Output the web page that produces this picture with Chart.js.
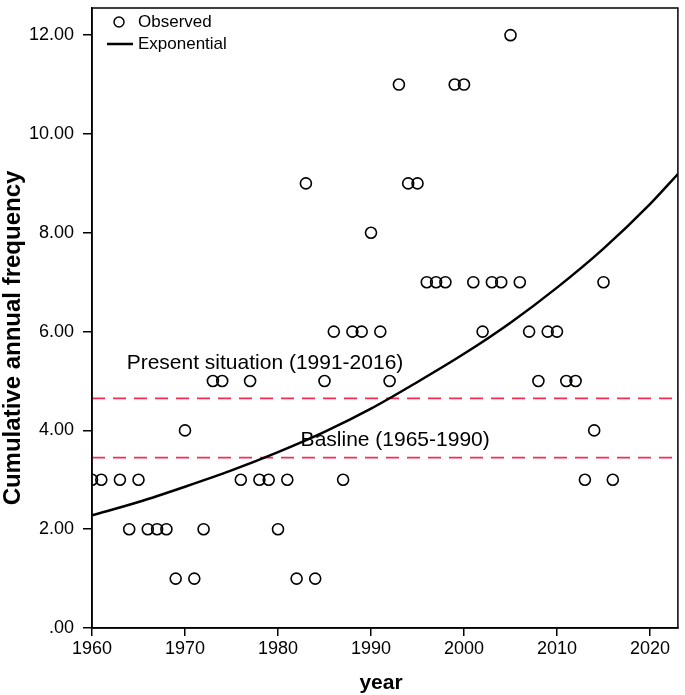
<!DOCTYPE html>
<html><head><meta charset="utf-8">
<script src="https://cdn.jsdelivr.net/npm/chart.js@4/dist/chart.umd.min.js"></script>
<style>html,body{margin:0;padding:0;background:#fff}#wrap{width:685px;height:695px}</style>
</head><body><div id="wrap"><canvas id="c" width="685" height="695"></canvas></div>
<script>
const years = [1960,1961,1963,1964,1965,1966,1967,1968,1969,1970,1971,1972,1973,1974,1976,1977,1978,1979,1980,1981,1982,1983,1984,1985,1986,1987,1988,1989,1990,1991,1992,1993,1994,1995,1996,1997,1998,1999,2000,2001,2002,2003,2004,2005,2006,2007,2008,2009,2010,2011,2012,2013,2014,2015,2016];
const observed = [3,3,3,2,3,2,2,2,1,4,1,2,5,5,3,5,3,3,2,3,1,9,1,5,6,3,6,6,8,6,5,11,9,9,7,7,7,11,11,7,6,7,7,12,7,6,5,6,6,5,5,3,4,7,3];
const curveYears = [1960,1965,1970,1975,1980,1985,1990,1995,2000,2005,2010,2015,2020,2023];
const curveValues = [2.28,2.55,2.86,3.19,3.56,3.97,4.44,4.98,5.55,6.18,6.89,7.68,8.58,9.19];
const presentLevel = 4.65;
const baselineLevel = 3.45;
const xTickLabels = ['1960','1970','1980','1990','2000','2010','2020'];
const yTickLabels = ['.00','2.00','4.00','6.00','8.00','10.00','12.00'];
const seriesNames = ['Observed','Exponential'];
const notes = [
  {text:'Present situation (1991-2016)', x:1978.6, y:5.36},
  {text:'Basline (1965-1990)', x:1992.6, y:3.8}
];
const X_MIN = 1960, X_MAX = 2023, Y_MIN = 0, Y_MAX = 12.55;
const FONT = "'Liberation Sans', Arial, sans-serif";
const RED = '#f52a55';

const extras = {
  id: 'extras',
  afterDatasetsDraw(chart) {
    const {ctx, chartArea: a, scales: {x, y}} = chart;
    ctx.save();
    // box
    ctx.strokeStyle = '#000'; ctx.lineWidth = 1.5;
    ctx.strokeRect(a.left, a.top, a.right - a.left, a.bottom - a.top);
    // notes
    ctx.fillStyle = '#000';
    ctx.font = '21px ' + FONT;
    ctx.textAlign = 'center'; ctx.textBaseline = 'middle';
    notes.forEach(n => ctx.fillText(n.text, x.getPixelForValue(n.x), y.getPixelForValue(n.y)));
    // legend
    ctx.font = '17px ' + FONT;
    ctx.textAlign = 'left';
    ctx.beginPath(); ctx.lineWidth = 1.5;
    ctx.arc(a.left + 27, a.top + 14, 5, 0, Math.PI * 2); ctx.stroke();
    ctx.fillText(seriesNames[0], a.left + 46, a.top + 14);
    ctx.beginPath(); ctx.lineWidth = 2.5;
    ctx.moveTo(a.left + 15, a.top + 36); ctx.lineTo(a.left + 41, a.top + 36); ctx.stroke();
    ctx.fillText(seriesNames[1], a.left + 46, a.top + 36);
    // axis titles
    ctx.textAlign = 'center';
    ctx.font = 'bold 21px ' + FONT;
    ctx.fillText('year', 381, 683);
    ctx.font = 'bold 24px ' + FONT;
    ctx.translate(13, 338); ctx.rotate(-Math.PI / 2);
    ctx.fillText('Cumulative annual frequency', 0, 0);
    ctx.restore();
  }
};

new Chart(document.getElementById('c'), {
  type: 'scatter',
  data: {
    datasets: [
      {label: seriesNames[0], data: years.map((yr, i) => ({x: yr, y: observed[i]})),
       pointStyle: 'circle', pointRadius: 5.5, pointBorderWidth: 1.6, pointBorderColor: '#000',
       pointBackgroundColor: 'rgba(0,0,0,0)', showLine: false, clip: 0, order: 1},
      {label: seriesNames[1], data: curveYears.map((yr, i) => ({x: yr, y: curveValues[i]})),
       showLine: true, borderColor: '#000', borderWidth: 2.5, pointRadius: 0,
       cubicInterpolationMode: 'monotone', clip: 0, order: 2},
      {label: 'present', data: [{x: X_MIN, y: presentLevel}, {x: X_MAX, y: presentLevel}],
       showLine: true, borderColor: RED, borderWidth: 1.8, borderDash: [13, 8], pointRadius: 0, order: 3},
      {label: 'baseline', data: [{x: X_MIN, y: baselineLevel}, {x: X_MAX, y: baselineLevel}],
       showLine: true, borderColor: RED, borderWidth: 1.8, borderDash: [13, 8], pointRadius: 0, order: 3}
    ]
  },
  options: {
    responsive: false, animation: false, devicePixelRatio: 1,
    layout: {padding: {top: 8, right: 4, left: 0, bottom: 0}},
    plugins: {legend: {display: false}, tooltip: {enabled: false}},
    scales: {
      x: {type: 'linear', min: X_MIN, max: X_MAX,
          ticks: {stepSize: 10, includeBounds: false, color: '#000', padding: 2,
                  font: {size: 18, family: FONT}, maxRotation: 0,
                  callback: v => xTickLabels[(v - 1960) / 10]},
          grid: {drawOnChartArea: false, drawTicks: true, tickLength: 8, color: '#000', lineWidth: 1.5},
          border: {display: true, color: '#000', width: 1.5},
          afterFit: s => { s.height = 67; s.paddingLeft = 0; s.paddingRight = 0; }},
      y: {type: 'linear', min: Y_MIN, max: Y_MAX,
          ticks: {stepSize: 2, includeBounds: false, color: '#000', padding: 9,
                  font: {size: 18, family: FONT},
                  callback: v => yTickLabels[Math.round(v / 2)]},
          grid: {drawOnChartArea: false, drawTicks: true, tickLength: 9, color: '#000', lineWidth: 1.5},
          border: {display: true, color: '#000', width: 1.5},
          afterFit: s => { s.width = 92; s.paddingTop = 0; s.paddingBottom = 0; }}
    }
  },
  plugins: [extras]
});
</script></body></html>
